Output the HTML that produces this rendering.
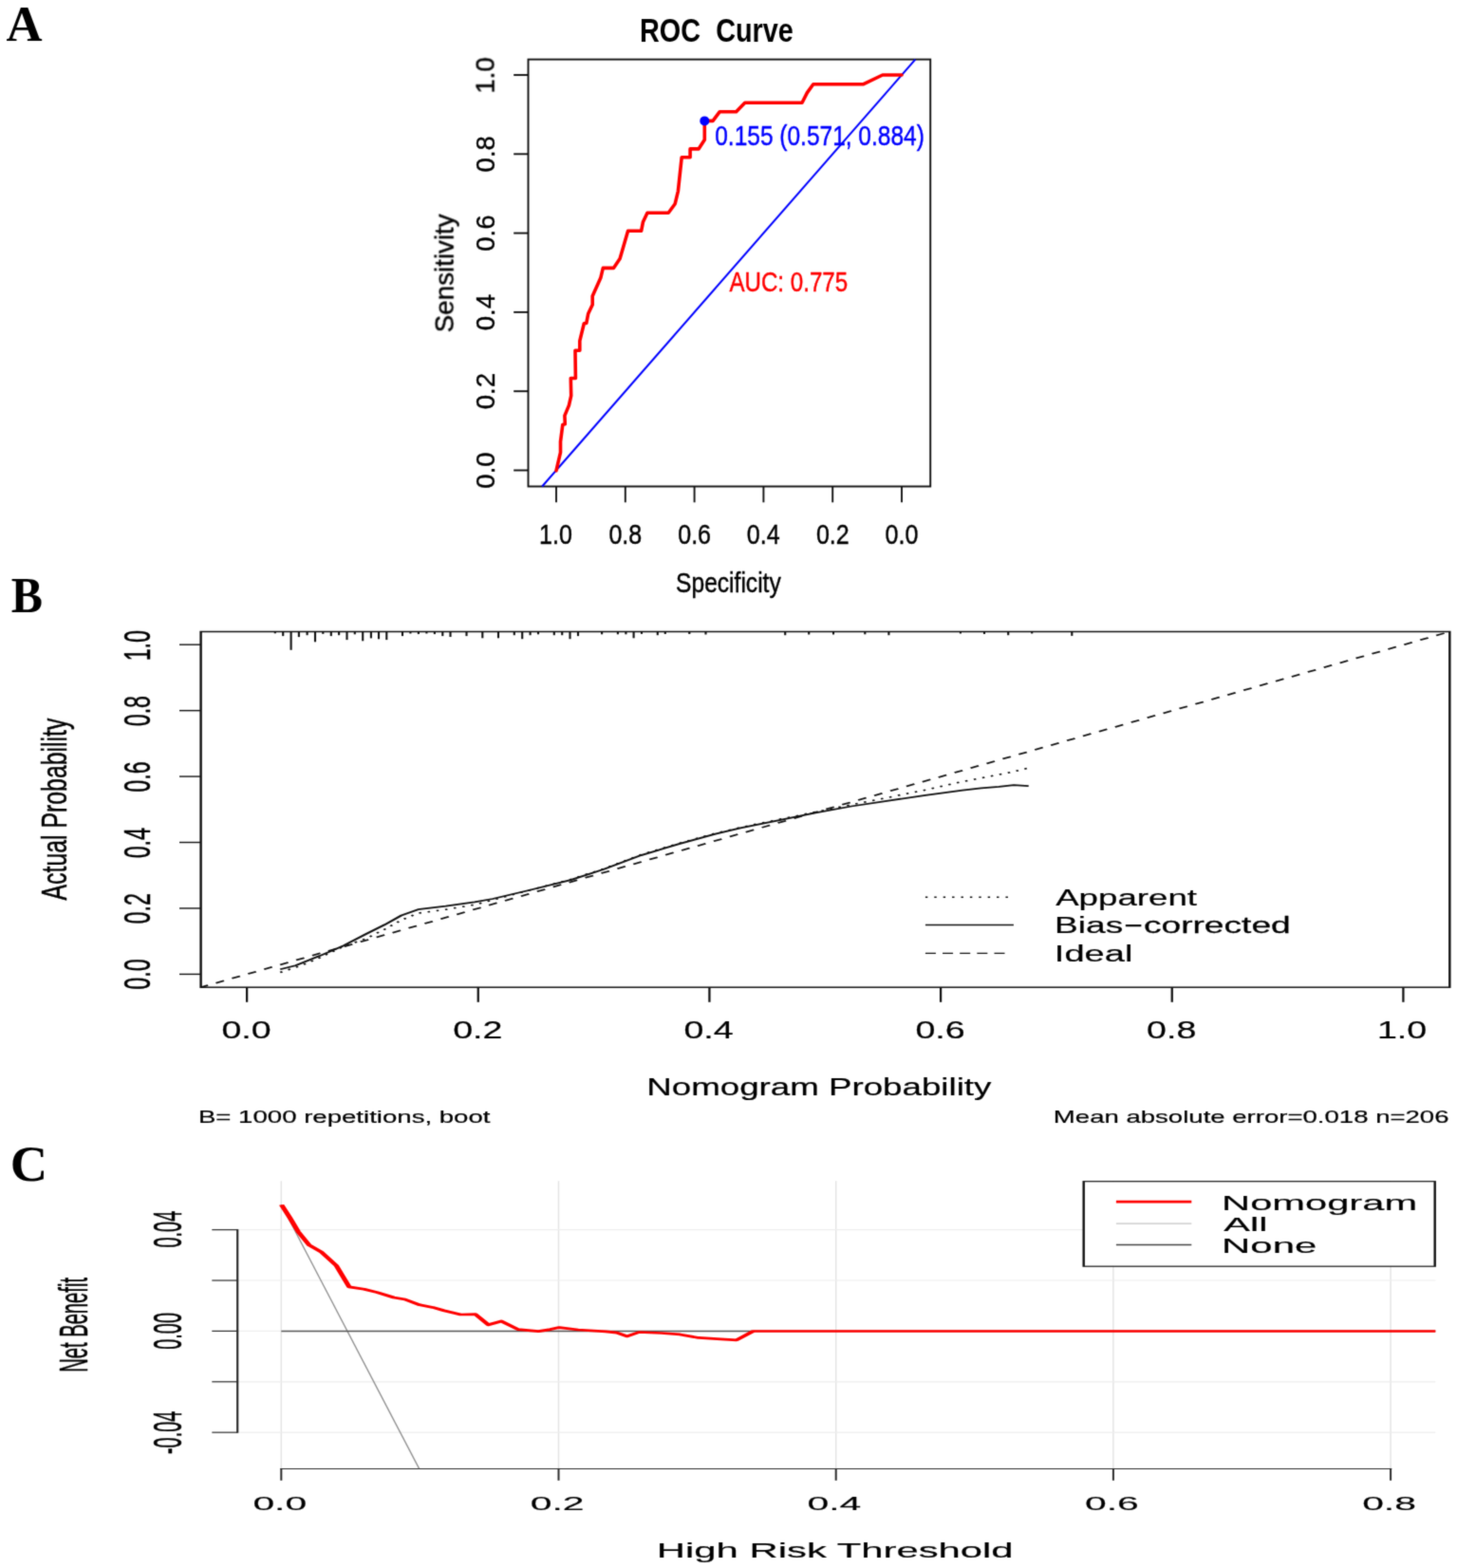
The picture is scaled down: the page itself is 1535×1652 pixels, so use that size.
<!DOCTYPE html>
<html lang="en">
<head>
<meta charset="utf-8">
<title>ROC curve, calibration curve and decision curve</title>
<style>
html,body{margin:0;padding:0;background:#fff;}
body{width:1535px;height:1652px;overflow:hidden;}
svg{display:block;}
text{white-space:pre;}
.s{font-family:"Liberation Sans",Arial,Helvetica,sans-serif;}
.t{font-family:"Liberation Serif","Times New Roman",Times,serif;}
</style>
</head>
<body>
<svg width="1535" height="1652" viewBox="0 0 1535 1652">
<defs><filter id="soft" x="0" y="0" width="1535" height="1652" filterUnits="userSpaceOnUse" color-interpolation-filters="sRGB"><feConvolveMatrix order="3" kernelMatrix="1 4 1 4 20 4 1 4 1" divisor="40" edgeMode="duplicate" preserveAlpha="false"/></filter></defs>
<rect x="0" y="0" width="1535" height="1652" fill="#fff"/>
<g filter="url(#soft)">
<text class="t" transform="translate(6.47 43.1) scale(1.0065 1)" font-size="52.42" font-weight="bold" fill="#000" xml:space="preserve">A</text>
<text class="t" transform="translate(11.63 645) scale(0.9510 1)" font-size="52.37" font-weight="bold" fill="#000" xml:space="preserve">B</text>
<text class="t" transform="translate(10.71 1244) scale(1.0298 1)" font-size="52.98" font-weight="bold" fill="#000" xml:space="preserve">C</text>
<g transform="scale(1.0000 1)">
<rect x="556.5" y="62.6" width="423.7" height="449.9" fill="none" stroke="#111" stroke-width="1.9"/>
<line x1="541.2" y1="495.5" x2="556.5" y2="495.5" stroke="#111" stroke-width="1.9" stroke-linecap="butt"/>
<line x1="950" y1="512.5" x2="950" y2="529.3" stroke="#111" stroke-width="1.9" stroke-linecap="butt"/>
<line x1="541.2" y1="412.2" x2="556.5" y2="412.2" stroke="#111" stroke-width="1.9" stroke-linecap="butt"/>
<line x1="877.2" y1="512.5" x2="877.2" y2="529.3" stroke="#111" stroke-width="1.9" stroke-linecap="butt"/>
<line x1="541.2" y1="328.9" x2="556.5" y2="328.9" stroke="#111" stroke-width="1.9" stroke-linecap="butt"/>
<line x1="804.4" y1="512.5" x2="804.4" y2="529.3" stroke="#111" stroke-width="1.9" stroke-linecap="butt"/>
<line x1="541.2" y1="245.6" x2="556.5" y2="245.6" stroke="#111" stroke-width="1.9" stroke-linecap="butt"/>
<line x1="731.6" y1="512.5" x2="731.6" y2="529.3" stroke="#111" stroke-width="1.9" stroke-linecap="butt"/>
<line x1="541.2" y1="162.3" x2="556.5" y2="162.3" stroke="#111" stroke-width="1.9" stroke-linecap="butt"/>
<line x1="658.8" y1="512.5" x2="658.8" y2="529.3" stroke="#111" stroke-width="1.9" stroke-linecap="butt"/>
<line x1="541.2" y1="79" x2="556.5" y2="79" stroke="#111" stroke-width="1.9" stroke-linecap="butt"/>
<line x1="586" y1="512.5" x2="586" y2="529.3" stroke="#111" stroke-width="1.9" stroke-linecap="butt"/>
<line x1="571.14" y1="512.5" x2="964.33" y2="62.6" stroke="#0000ff" stroke-width="2" stroke-linecap="butt"/>
<polyline points="586,495.8 590.5,476.6 590.5,465.2 592.8,447.4 595.3,446.8 594.9,437.9 599.4,427.1 601.7,416.9 601.3,398.5 606.4,398.5 606,369.3 610.8,369.3 610.8,359.1 615.3,340.7 617.8,340.4 619.7,330.5 624.2,321 624.2,312.1 632.8,292.8 635.3,282.4 646.4,282.4 653.1,272.5 661.6,243.3 675.6,243.3 677.5,233.7 682,224.2 704.2,224.2 711.2,214.7 714.4,201.3 718.2,165.7 727.1,165.7 727.1,156.9 736,156.9 742.3,147.3 742.3,127.4 751,127.4 758.3,117.7 775.6,117.7 784.8,108.2 845,108.2 850.4,97.6 856.8,88.7 909.7,88.7 929.8,79 950,79" fill="none" stroke="#ff0000" stroke-width="3.6" stroke-linejoin="round" stroke-linecap="round"/>
<ellipse cx="742.3" cy="127.4" rx="5" ry="5" fill="#0000ff"/>
</g>
<text class="s" transform="translate(674.05 44) scale(0.8367 1)" font-size="34.47" font-weight="bold" fill="#000" xml:space="preserve">ROC  Curve</text>
<text class="s" transform="translate(568.12 573) scale(0.8565 1)" font-size="29.25" fill="#000" stroke="#000" stroke-width="0.4" vector-effect="non-scaling-stroke" xml:space="preserve">1.0</text>
<text class="s" transform="translate(641.42 573) scale(0.8565 1)" font-size="29.25" fill="#000" stroke="#000" stroke-width="0.4" vector-effect="non-scaling-stroke" xml:space="preserve">0.8</text>
<text class="s" transform="translate(714.22 573) scale(0.8565 1)" font-size="29.25" fill="#000" stroke="#000" stroke-width="0.4" vector-effect="non-scaling-stroke" xml:space="preserve">0.6</text>
<text class="s" transform="translate(786.83 573) scale(0.8565 1)" font-size="29.25" fill="#000" stroke="#000" stroke-width="0.4" vector-effect="non-scaling-stroke" xml:space="preserve">0.4</text>
<text class="s" transform="translate(859.92 573) scale(0.8565 1)" font-size="29.25" fill="#000" stroke="#000" stroke-width="0.4" vector-effect="non-scaling-stroke" xml:space="preserve">0.2</text>
<text class="s" transform="translate(932.56 573) scale(0.8565 1)" font-size="29.25" fill="#000" stroke="#000" stroke-width="0.4" vector-effect="non-scaling-stroke" xml:space="preserve">0.0</text>
<text class="s" transform="translate(712.09 624.1) scale(0.8094 1)" font-size="30.39" fill="#000" stroke="#000" stroke-width="0.4" vector-effect="non-scaling-stroke" xml:space="preserve">Specificity</text>
<text class="s" transform="translate(521 98.57) scale(0.9782 1) rotate(-90)" font-size="27.55" fill="#000" stroke="#000" stroke-width="0.4" vector-effect="non-scaling-stroke" xml:space="preserve">1.0</text>
<text class="s" transform="translate(521 514.68) scale(0.9782 1) rotate(-90)" font-size="27.55" fill="#000" stroke="#000" stroke-width="0.4" vector-effect="non-scaling-stroke" xml:space="preserve">0.0</text>
<text class="s" transform="translate(521 431.21) scale(0.9782 1) rotate(-90)" font-size="27.55" fill="#000" stroke="#000" stroke-width="0.4" vector-effect="non-scaling-stroke" xml:space="preserve">0.2</text>
<text class="s" transform="translate(521 348.22) scale(0.9782 1) rotate(-90)" font-size="27.55" fill="#000" stroke="#000" stroke-width="0.4" vector-effect="non-scaling-stroke" xml:space="preserve">0.4</text>
<text class="s" transform="translate(521 264.72) scale(0.9782 1) rotate(-90)" font-size="27.55" fill="#000" stroke="#000" stroke-width="0.4" vector-effect="non-scaling-stroke" xml:space="preserve">0.6</text>
<text class="s" transform="translate(521 181.42) scale(0.9782 1) rotate(-90)" font-size="27.55" fill="#000" stroke="#000" stroke-width="0.4" vector-effect="non-scaling-stroke" xml:space="preserve">0.8</text>
<text class="s" transform="translate(477.4 350.35) scale(0.9914 1) rotate(-90)" font-size="27.77" fill="#000" stroke="#000" stroke-width="0.4" vector-effect="non-scaling-stroke" xml:space="preserve">Sensitivity</text>
<text class="s" transform="translate(753.22 152.5) scale(0.8376 1)" font-size="29.25" fill="#0000ff" stroke="#0000ff" stroke-width="0.4" vector-effect="non-scaling-stroke" xml:space="preserve">0.155 (0.571, 0.884)</text>
<text class="s" transform="translate(768.44 307.3) scale(0.8134 1)" font-size="29.67" fill="#ff0000" stroke="#ff0000" stroke-width="0.4" vector-effect="non-scaling-stroke" xml:space="preserve">AUC: 0.775</text>
<g transform="scale(1.6200 1)">
<rect x="130.62" y="665.5" width="812.16" height="374.7" fill="none" stroke="#111" stroke-width="1.5"/>
<line x1="116.67" y1="1026.4" x2="130.62" y2="1026.4" stroke="#111" stroke-width="1.4" stroke-linecap="butt"/>
<line x1="160.56" y1="1040.2" x2="160.56" y2="1055.8" stroke="#111" stroke-width="1.4" stroke-linecap="butt"/>
<line x1="116.67" y1="956.96" x2="130.62" y2="956.96" stroke="#111" stroke-width="1.4" stroke-linecap="butt"/>
<line x1="310.96" y1="1040.2" x2="310.96" y2="1055.8" stroke="#111" stroke-width="1.4" stroke-linecap="butt"/>
<line x1="116.67" y1="887.52" x2="130.62" y2="887.52" stroke="#111" stroke-width="1.4" stroke-linecap="butt"/>
<line x1="461.37" y1="1040.2" x2="461.37" y2="1055.8" stroke="#111" stroke-width="1.4" stroke-linecap="butt"/>
<line x1="116.67" y1="818.08" x2="130.62" y2="818.08" stroke="#111" stroke-width="1.4" stroke-linecap="butt"/>
<line x1="611.78" y1="1040.2" x2="611.78" y2="1055.8" stroke="#111" stroke-width="1.4" stroke-linecap="butt"/>
<line x1="116.67" y1="748.64" x2="130.62" y2="748.64" stroke="#111" stroke-width="1.4" stroke-linecap="butt"/>
<line x1="762.19" y1="1040.2" x2="762.19" y2="1055.8" stroke="#111" stroke-width="1.4" stroke-linecap="butt"/>
<line x1="116.67" y1="679.2" x2="130.62" y2="679.2" stroke="#111" stroke-width="1.4" stroke-linecap="butt"/>
<line x1="912.59" y1="1040.2" x2="912.59" y2="1055.8" stroke="#111" stroke-width="1.4" stroke-linecap="butt"/>
<line x1="178.89" y1="665.5" x2="178.89" y2="667.3" stroke="#111" stroke-width="1.3" stroke-linecap="butt"/>
<line x1="184.07" y1="665.5" x2="184.07" y2="670.1" stroke="#111" stroke-width="1.3" stroke-linecap="butt"/>
<line x1="189.26" y1="665.5" x2="189.26" y2="684.8" stroke="#111" stroke-width="1.3" stroke-linecap="butt"/>
<line x1="194.38" y1="665.5" x2="194.38" y2="671.1" stroke="#111" stroke-width="1.3" stroke-linecap="butt"/>
<line x1="199.75" y1="665.5" x2="199.75" y2="669.2" stroke="#111" stroke-width="1.3" stroke-linecap="butt"/>
<line x1="204.94" y1="665.5" x2="204.94" y2="676.3" stroke="#111" stroke-width="1.3" stroke-linecap="butt"/>
<line x1="210.06" y1="665.5" x2="210.06" y2="667.9" stroke="#111" stroke-width="1.3" stroke-linecap="butt"/>
<line x1="215.31" y1="665.5" x2="215.31" y2="670.1" stroke="#111" stroke-width="1.3" stroke-linecap="butt"/>
<line x1="220.43" y1="665.5" x2="220.43" y2="669.2" stroke="#111" stroke-width="1.3" stroke-linecap="butt"/>
<line x1="225.62" y1="665.5" x2="225.62" y2="674.1" stroke="#111" stroke-width="1.3" stroke-linecap="butt"/>
<line x1="230.74" y1="665.5" x2="230.74" y2="668.3" stroke="#111" stroke-width="1.3" stroke-linecap="butt"/>
<line x1="235.93" y1="665.5" x2="235.93" y2="675.3" stroke="#111" stroke-width="1.3" stroke-linecap="butt"/>
<line x1="241.3" y1="665.5" x2="241.3" y2="672.4" stroke="#111" stroke-width="1.3" stroke-linecap="butt"/>
<line x1="246.3" y1="665.5" x2="246.3" y2="673.3" stroke="#111" stroke-width="1.3" stroke-linecap="butt"/>
<line x1="251.42" y1="665.5" x2="251.42" y2="674.1" stroke="#111" stroke-width="1.3" stroke-linecap="butt"/>
<line x1="261.73" y1="665.5" x2="261.73" y2="670.1" stroke="#111" stroke-width="1.3" stroke-linecap="butt"/>
<line x1="266.91" y1="665.5" x2="266.91" y2="667.5" stroke="#111" stroke-width="1.3" stroke-linecap="butt"/>
<line x1="272.16" y1="665.5" x2="272.16" y2="668.1" stroke="#111" stroke-width="1.3" stroke-linecap="butt"/>
<line x1="277.41" y1="665.5" x2="277.41" y2="667.5" stroke="#111" stroke-width="1.3" stroke-linecap="butt"/>
<line x1="282.65" y1="665.5" x2="282.65" y2="668.1" stroke="#111" stroke-width="1.3" stroke-linecap="butt"/>
<line x1="287.84" y1="665.5" x2="287.84" y2="670.1" stroke="#111" stroke-width="1.3" stroke-linecap="butt"/>
<line x1="292.9" y1="665.5" x2="292.9" y2="671" stroke="#111" stroke-width="1.3" stroke-linecap="butt"/>
<line x1="303.4" y1="665.5" x2="303.4" y2="670.1" stroke="#111" stroke-width="1.3" stroke-linecap="butt"/>
<line x1="313.77" y1="665.5" x2="313.77" y2="672.3" stroke="#111" stroke-width="1.3" stroke-linecap="butt"/>
<line x1="324.07" y1="665.5" x2="324.07" y2="672.3" stroke="#111" stroke-width="1.3" stroke-linecap="butt"/>
<line x1="334.44" y1="665.5" x2="334.44" y2="669.2" stroke="#111" stroke-width="1.3" stroke-linecap="butt"/>
<line x1="339.63" y1="665.5" x2="339.63" y2="673.2" stroke="#111" stroke-width="1.3" stroke-linecap="butt"/>
<line x1="344.81" y1="665.5" x2="344.81" y2="669.2" stroke="#111" stroke-width="1.3" stroke-linecap="butt"/>
<line x1="350" y1="665.5" x2="350" y2="668.3" stroke="#111" stroke-width="1.3" stroke-linecap="butt"/>
<line x1="360.37" y1="665.5" x2="360.37" y2="669.2" stroke="#111" stroke-width="1.3" stroke-linecap="butt"/>
<line x1="365.56" y1="665.5" x2="365.56" y2="669.2" stroke="#111" stroke-width="1.3" stroke-linecap="butt"/>
<line x1="370.68" y1="665.5" x2="370.68" y2="673.2" stroke="#111" stroke-width="1.3" stroke-linecap="butt"/>
<line x1="375.93" y1="665.5" x2="375.93" y2="670.1" stroke="#111" stroke-width="1.3" stroke-linecap="butt"/>
<line x1="391.42" y1="665.5" x2="391.42" y2="668.3" stroke="#111" stroke-width="1.3" stroke-linecap="butt"/>
<line x1="401.79" y1="665.5" x2="401.79" y2="668.3" stroke="#111" stroke-width="1.3" stroke-linecap="butt"/>
<line x1="407.04" y1="665.5" x2="407.04" y2="668.3" stroke="#111" stroke-width="1.3" stroke-linecap="butt"/>
<line x1="412.1" y1="665.5" x2="412.1" y2="672.3" stroke="#111" stroke-width="1.3" stroke-linecap="butt"/>
<line x1="417.28" y1="665.5" x2="417.28" y2="667.9" stroke="#111" stroke-width="1.3" stroke-linecap="butt"/>
<line x1="427.65" y1="665.5" x2="427.65" y2="669.2" stroke="#111" stroke-width="1.3" stroke-linecap="butt"/>
<line x1="432.59" y1="665.5" x2="432.59" y2="668" stroke="#111" stroke-width="1.3" stroke-linecap="butt"/>
<line x1="448.33" y1="665.5" x2="448.33" y2="668" stroke="#111" stroke-width="1.3" stroke-linecap="butt"/>
<line x1="458.95" y1="665.5" x2="458.95" y2="668.5" stroke="#111" stroke-width="1.3" stroke-linecap="butt"/>
<line x1="510.62" y1="665.5" x2="510.62" y2="669.2" stroke="#111" stroke-width="1.3" stroke-linecap="butt"/>
<line x1="526.05" y1="665.5" x2="526.05" y2="668.5" stroke="#111" stroke-width="1.3" stroke-linecap="butt"/>
<line x1="541.98" y1="665.5" x2="541.98" y2="668.5" stroke="#111" stroke-width="1.3" stroke-linecap="butt"/>
<line x1="562.53" y1="665.5" x2="562.53" y2="668.3" stroke="#111" stroke-width="1.3" stroke-linecap="butt"/>
<line x1="578.02" y1="665.5" x2="578.02" y2="669.2" stroke="#111" stroke-width="1.3" stroke-linecap="butt"/>
<line x1="624.63" y1="665.5" x2="624.63" y2="667.5" stroke="#111" stroke-width="1.3" stroke-linecap="butt"/>
<line x1="640.12" y1="665.5" x2="640.12" y2="668" stroke="#111" stroke-width="1.3" stroke-linecap="butt"/>
<line x1="655.68" y1="665.5" x2="655.68" y2="669.2" stroke="#111" stroke-width="1.3" stroke-linecap="butt"/>
<line x1="671.11" y1="665.5" x2="671.11" y2="667.5" stroke="#111" stroke-width="1.3" stroke-linecap="butt"/>
<line x1="697.1" y1="665.5" x2="697.1" y2="669.9" stroke="#111" stroke-width="1.3" stroke-linecap="butt"/>
<line x1="130.62" y1="1040.2" x2="942.78" y2="665.5" stroke="#111" stroke-width="1.65" stroke-linecap="butt" stroke-dasharray="5.75 5.75" stroke-dashoffset="0.7"/>
<polyline points="182.22,1024.5 195.86,1017.3 207.9,1009 223.58,996.9 238.09,988.9 250.12,979.1 260.99,969.4 271.85,962.1 289.94,958.2 308.64,953.2 320.43,948.2 344.57,937.8 371.11,926.6 392.78,915.2 416.91,900.5 441.05,888.8 465.19,878 481.48,871.8 505.31,863.8 529.44,855.8 553.58,847.9 577.72,840.1 601.85,832.3 625.93,823.5 654.32,814.7 668.33,809.4" fill="none" stroke="#111" stroke-width="1.6" stroke-linejoin="round" stroke-linecap="butt" stroke-dasharray="1.6 4.2"/>
<polyline points="182.22,1021.2 192.22,1017.3 207.9,1007.1 223.58,996.2 238.09,984 250.12,974.3 260.99,964.5 271.85,958.2 289.94,954.7 308.64,950.4 320.43,947 344.57,937.8 371.11,927.1 392.78,915.8 416.91,901.1 441.05,889.4 465.19,878.6 481.48,872.4 505.31,864.6 529.44,856.7 553.58,849.5 577.72,843.6 601.85,837.8 625.93,832.7 638.02,830.4 649.63,828.9 659.32,827.2 668.95,828.1" fill="none" stroke="#111" stroke-width="1.75" stroke-linejoin="round" stroke-linecap="butt"/>
<line x1="601.79" y1="945.2" x2="656.48" y2="945.2" stroke="#111" stroke-width="1.4" stroke-linecap="butt" stroke-dasharray="1.5 4.3"/>
<line x1="601.79" y1="974.5" x2="659.2" y2="974.5" stroke="#111" stroke-width="1.5" stroke-linecap="butt"/>
<line x1="601.79" y1="1004.4" x2="654.32" y2="1004.4" stroke="#111" stroke-width="1.4" stroke-linecap="butt" stroke-dasharray="6.8 4.4"/>
</g>
<text class="s" transform="translate(1112.13 954) scale(1.4942 1)" font-size="24.55" fill="#000" stroke="#000" stroke-width="0.25" vector-effect="non-scaling-stroke" xml:space="preserve">Apparent</text>
<text class="s" transform="translate(1111.06 982.9) scale(1.5124 1)" font-size="24.55" fill="#000" stroke="#000" stroke-width="0.25" vector-effect="non-scaling-stroke" xml:space="preserve">Bias<tspan dy="-1.84" textLength="14.33" lengthAdjust="spacingAndGlyphs">-</tspan><tspan dy="1.84">corrected</tspan></text>
<text class="s" transform="translate(1110.8 1013.2) scale(1.5516 1)" font-size="24.55" fill="#000" stroke="#000" stroke-width="0.25" vector-effect="non-scaling-stroke" xml:space="preserve">Ideal</text>
<text class="s" transform="translate(233.42 1094) scale(1.4838 1)" font-size="25.34" fill="#000" stroke="#000" stroke-width="0.25" vector-effect="non-scaling-stroke" xml:space="preserve">0.0</text>
<text class="s" transform="translate(477.22 1094) scale(1.4838 1)" font-size="25.34" fill="#000" stroke="#000" stroke-width="0.25" vector-effect="non-scaling-stroke" xml:space="preserve">0.2</text>
<text class="s" transform="translate(720.45 1094) scale(1.4838 1)" font-size="25.34" fill="#000" stroke="#000" stroke-width="0.25" vector-effect="non-scaling-stroke" xml:space="preserve">0.4</text>
<text class="s" transform="translate(964.39 1094) scale(1.4838 1)" font-size="25.34" fill="#000" stroke="#000" stroke-width="0.25" vector-effect="non-scaling-stroke" xml:space="preserve">0.6</text>
<text class="s" transform="translate(1208.06 1094) scale(1.4838 1)" font-size="25.34" fill="#000" stroke="#000" stroke-width="0.25" vector-effect="non-scaling-stroke" xml:space="preserve">0.8</text>
<text class="s" transform="translate(1450.96 1094) scale(1.4838 1)" font-size="25.34" fill="#000" stroke="#000" stroke-width="0.25" vector-effect="non-scaling-stroke" xml:space="preserve">1.0</text>
<text class="s" transform="translate(681.3 1154.1) scale(1.4124 1)" font-size="26" fill="#000" stroke="#000" stroke-width="0.25" vector-effect="non-scaling-stroke" xml:space="preserve">Nomogram Probability</text>
<text class="s" transform="translate(208.95 1183.3) scale(1.4515 1)" font-size="19.02" fill="#000" stroke="#000" stroke-width="0.25" vector-effect="non-scaling-stroke" xml:space="preserve">B= 1000 repetitions, boot</text>
<text class="s" transform="translate(1109.85 1183.3) scale(1.4492 1)" font-size="19.02" fill="#000" stroke="#000" stroke-width="0.25" vector-effect="non-scaling-stroke" xml:space="preserve">Mean absolute error=0.018 n=206</text>
<text class="s" transform="translate(158.2 1042.73) scale(1.6972 1) rotate(-90)" font-size="23.31" fill="#000" stroke="#000" stroke-width="0.4" vector-effect="non-scaling-stroke" xml:space="preserve">0.0</text>
<text class="s" transform="translate(158.2 973.55) scale(1.6972 1) rotate(-90)" font-size="23.31" fill="#000" stroke="#000" stroke-width="0.4" vector-effect="non-scaling-stroke" xml:space="preserve">0.2</text>
<text class="s" transform="translate(158.2 904.37) scale(1.6972 1) rotate(-90)" font-size="23.31" fill="#000" stroke="#000" stroke-width="0.4" vector-effect="non-scaling-stroke" xml:space="preserve">0.4</text>
<text class="s" transform="translate(158.2 834.75) scale(1.6972 1) rotate(-90)" font-size="23.31" fill="#000" stroke="#000" stroke-width="0.4" vector-effect="non-scaling-stroke" xml:space="preserve">0.6</text>
<text class="s" transform="translate(158.2 765.31) scale(1.6972 1) rotate(-90)" font-size="23.31" fill="#000" stroke="#000" stroke-width="0.4" vector-effect="non-scaling-stroke" xml:space="preserve">0.8</text>
<text class="s" transform="translate(158.2 696.34) scale(1.6972 1) rotate(-90)" font-size="23.31" fill="#000" stroke="#000" stroke-width="0.4" vector-effect="non-scaling-stroke" xml:space="preserve">1.0</text>
<text class="s" transform="translate(70.4 948.46) scale(1.4875 1) rotate(-90)" font-size="24.84" fill="#000" stroke="#000" stroke-width="0.4" vector-effect="non-scaling-stroke" xml:space="preserve">Actual Probability</text>
<g transform="scale(2.0000 1)">
<line x1="148.15" y1="1244.3" x2="148.15" y2="1547.2" stroke="#e3e3e3" stroke-width="0.7" stroke-linecap="butt"/>
<line x1="294.25" y1="1244.3" x2="294.25" y2="1547.2" stroke="#e3e3e3" stroke-width="0.7" stroke-linecap="butt"/>
<line x1="440.35" y1="1244.3" x2="440.35" y2="1547.2" stroke="#e3e3e3" stroke-width="0.7" stroke-linecap="butt"/>
<line x1="586.45" y1="1244.3" x2="586.45" y2="1547.2" stroke="#e3e3e3" stroke-width="0.7" stroke-linecap="butt"/>
<line x1="732.55" y1="1244.3" x2="732.55" y2="1547.2" stroke="#e3e3e3" stroke-width="0.7" stroke-linecap="butt"/>
<line x1="125.1" y1="1509.16" x2="756.15" y2="1509.16" stroke="#ededed" stroke-width="1.2" stroke-linecap="butt"/>
<line x1="125.1" y1="1455.78" x2="756.15" y2="1455.78" stroke="#ededed" stroke-width="1.2" stroke-linecap="butt"/>
<line x1="125.1" y1="1402.4" x2="756.15" y2="1402.4" stroke="#ededed" stroke-width="1.2" stroke-linecap="butt"/>
<line x1="125.1" y1="1349.02" x2="756.15" y2="1349.02" stroke="#ededed" stroke-width="1.2" stroke-linecap="butt"/>
<line x1="125.1" y1="1295.64" x2="756.15" y2="1295.64" stroke="#ededed" stroke-width="1.2" stroke-linecap="butt"/>
<line x1="125.1" y1="1295.64" x2="125.1" y2="1509.16" stroke="#2a2a2a" stroke-width="1.1" stroke-linecap="square"/>
<line x1="111.65" y1="1509.16" x2="125.1" y2="1509.16" stroke="#2a2a2a" stroke-width="1.2" stroke-linecap="butt"/>
<line x1="111.65" y1="1455.78" x2="125.1" y2="1455.78" stroke="#2a2a2a" stroke-width="1.2" stroke-linecap="butt"/>
<line x1="111.65" y1="1402.4" x2="125.1" y2="1402.4" stroke="#2a2a2a" stroke-width="1.2" stroke-linecap="butt"/>
<line x1="111.65" y1="1349.02" x2="125.1" y2="1349.02" stroke="#2a2a2a" stroke-width="1.2" stroke-linecap="butt"/>
<line x1="111.65" y1="1295.64" x2="125.1" y2="1295.64" stroke="#2a2a2a" stroke-width="1.2" stroke-linecap="butt"/>
<line x1="148.15" y1="1547.5" x2="732.55" y2="1547.5" stroke="#2a2a2a" stroke-width="1.2" stroke-linecap="square"/>
<line x1="148.15" y1="1547.5" x2="148.15" y2="1559.8" stroke="#2a2a2a" stroke-width="1" stroke-linecap="butt"/>
<line x1="294.25" y1="1547.5" x2="294.25" y2="1559.8" stroke="#2a2a2a" stroke-width="1" stroke-linecap="butt"/>
<line x1="440.35" y1="1547.5" x2="440.35" y2="1559.8" stroke="#2a2a2a" stroke-width="1" stroke-linecap="butt"/>
<line x1="586.45" y1="1547.5" x2="586.45" y2="1559.8" stroke="#2a2a2a" stroke-width="1" stroke-linecap="butt"/>
<line x1="732.55" y1="1547.5" x2="732.55" y2="1559.8" stroke="#2a2a2a" stroke-width="1" stroke-linecap="butt"/>
<line x1="148.15" y1="1269" x2="220.75" y2="1547.2" stroke="#8f8f8f" stroke-width="0.75" stroke-linecap="butt"/>
<line x1="148.15" y1="1402.4" x2="756.15" y2="1402.4" stroke="#555" stroke-width="1.5" stroke-linecap="butt"/>
<polyline points="148.3,1269.3 152.7,1283 157.1,1297.7 162.95,1311.9 169.3,1319.1 177.15,1333.4 183.95,1355.9 191.8,1358.2 198.65,1361.6 207.4,1367 213.3,1369 221.1,1374.8 227.95,1377.4 233.8,1380.7 242.6,1385 250.4,1384.6 257.25,1395.8 264.1,1392 272.9,1400.6 283.65,1402.6 290,1400.6 294.65,1398.6 304.45,1401 319.1,1402.9 324.95,1404.1 330.3,1407.8 336.65,1403.5 348.4,1404.5 358.15,1405.9 367.95,1409.4 377.7,1410.7 387.95,1411.9 396.75,1402.5 756.15,1402.5" fill="none" stroke="#ff0000" stroke-width="2.7" stroke-linejoin="round" stroke-linecap="butt"/>
<rect x="570.85" y="1244.7" width="185" height="89.5" fill="#fff" stroke="#111" stroke-width="1.2"/>
<line x1="587.95" y1="1266.2" x2="627.65" y2="1266.2" stroke="#ff0000" stroke-width="2.7" stroke-linecap="butt"/>
<line x1="587.95" y1="1289.1" x2="627.65" y2="1289.1" stroke="#c4c4c4" stroke-width="1.2" stroke-linecap="butt"/>
<line x1="587.95" y1="1311.5" x2="627.65" y2="1311.5" stroke="#444" stroke-width="1.5" stroke-linecap="butt"/>
</g>
<text class="s" transform="translate(1287.09 1274.7) scale(1.9253 1)" font-size="21.64" fill="#000" stroke="#000" stroke-width="0.25" vector-effect="non-scaling-stroke" xml:space="preserve">Nomogram</text>
<text class="s" transform="translate(1289.32 1297.4) scale(1.9750 1)" font-size="21.05" fill="#000" stroke="#000" stroke-width="0.25" vector-effect="non-scaling-stroke" xml:space="preserve">All</text>
<text class="s" transform="translate(1287.07 1319.7) scale(1.9639 1)" font-size="21.35" fill="#000" stroke="#000" stroke-width="0.25" vector-effect="non-scaling-stroke" xml:space="preserve">None</text>
<text class="s" transform="translate(266.39 1591) scale(2.1003 1)" font-size="19.46" fill="#000" stroke="#000" stroke-width="0.25" vector-effect="non-scaling-stroke" xml:space="preserve">0.0</text>
<text class="s" transform="translate(558.7 1591) scale(2.1003 1)" font-size="19.46" fill="#000" stroke="#000" stroke-width="0.25" vector-effect="non-scaling-stroke" xml:space="preserve">0.2</text>
<text class="s" transform="translate(850.44 1591) scale(2.1003 1)" font-size="19.46" fill="#000" stroke="#000" stroke-width="0.25" vector-effect="non-scaling-stroke" xml:space="preserve">0.4</text>
<text class="s" transform="translate(1142.94 1591) scale(2.1003 1)" font-size="19.46" fill="#000" stroke="#000" stroke-width="0.25" vector-effect="non-scaling-stroke" xml:space="preserve">0.6</text>
<text class="s" transform="translate(1435.14 1591) scale(2.1003 1)" font-size="19.46" fill="#000" stroke="#000" stroke-width="0.25" vector-effect="non-scaling-stroke" xml:space="preserve">0.8</text>
<text class="s" transform="translate(691.87 1641.3) scale(1.8582 1)" font-size="22.51" fill="#000" stroke="#000" stroke-width="0.25" vector-effect="non-scaling-stroke" xml:space="preserve">High Risk Threshold</text>
<text class="s" transform="translate(191.3 1314.5) scale(2.1232 1) rotate(-90)" font-size="19.92" fill="#000" stroke="#000" stroke-width="0.4" vector-effect="non-scaling-stroke" xml:space="preserve">0.04</text>
<text class="s" transform="translate(191.3 1421.8) scale(2.1232 1) rotate(-90)" font-size="19.92" fill="#000" stroke="#000" stroke-width="0.4" vector-effect="non-scaling-stroke" xml:space="preserve">0.00</text>
<text class="s" transform="translate(191.3 1532.02) scale(2.1232 1) rotate(-90)" font-size="19.92" fill="#000" stroke="#000" stroke-width="0.4" vector-effect="non-scaling-stroke" xml:space="preserve">-0.04</text>
<text class="s" transform="translate(91.5 1445.87) scale(2.1103 1) rotate(-90)" font-size="20.2" fill="#000" stroke="#000" stroke-width="0.4" vector-effect="non-scaling-stroke" xml:space="preserve">Net Benefit</text>
</g>
</svg>
</body>
</html>
